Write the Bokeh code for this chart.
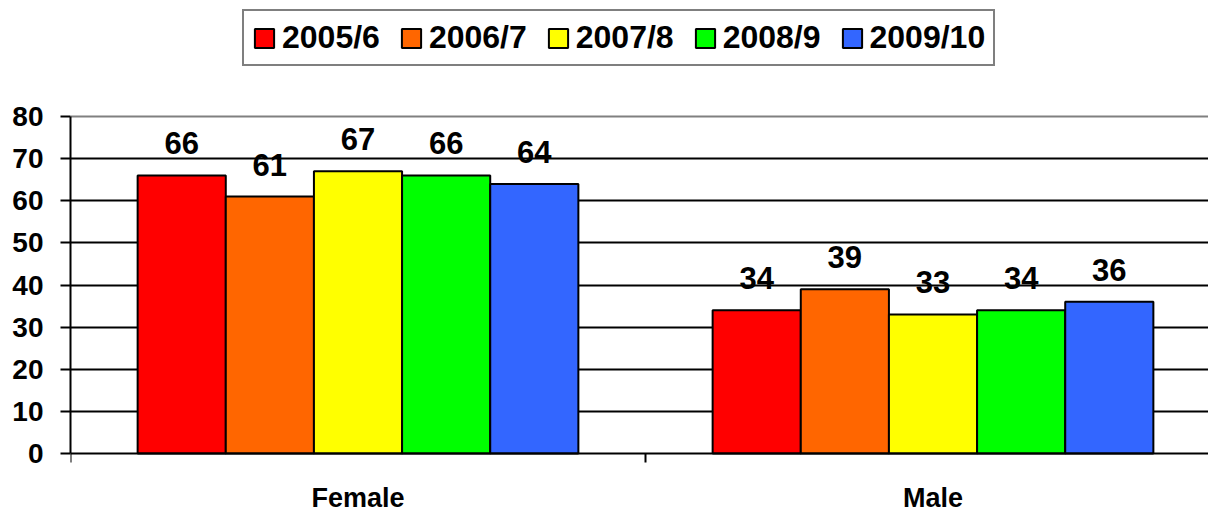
from bokeh.plotting import figure
from bokeh.models import (ColumnDataSource, Range1d, LinearAxis, FixedTicker,
                          Legend, LegendItem, Grid)
from bokeh.core.properties import value
from bokeh.embed import file_html
from bokeh.resources import INLINE

# ---- data ----
categories = ["Female", "Male"]
years = ["2005/6", "2006/7", "2007/8", "2008/9", "2009/10"]
v_2005 = [66, 34]
v_2006 = [61, 39]
v_2007 = [67, 33]
v_2008 = [66, 34]
v_2009 = [64, 36]
series = [v_2005, v_2006, v_2007, v_2008, v_2009]
y_ticks = [0, 10, 20, 30, 40, 50, 60, 70, 80]

# ---- style ----
colors = ["#FF0000", "#FF6600", "#FFFF00", "#00FF00", "#3366FF"]
FONT = "Liberation Sans"
W, H = 1208, 513
left_border = 70
px_per_cat = 575.0
px_per_unit = 4.2125
zero_from_bottom = 60
bar_w = 0.1533

x_end = (W - left_border) / px_per_cat
y_start = -zero_from_bottom / px_per_unit
y_end = y_start + H / px_per_unit

p = figure(width=W, height=H, output_backend="svg", toolbar_location=None,
           x_range=Range1d(0, x_end), y_range=Range1d(y_start, y_end),
           x_axis_location=None, y_axis_location="left")
p.min_border = 0
p.min_border_left = left_border
p.outline_line_color = None
p.background_fill_color = "white"
p.border_fill_color = "white"

# y axis
ya = p.yaxis[0]
ya.ticker = FixedTicker(ticks=y_ticks)
ya.bounds = (y_ticks[0], y_ticks[-1])
ya.axis_line_color = "black"
ya.axis_line_width = 2
ya.major_tick_line_color = "black"
ya.major_tick_line_width = 2
ya.major_tick_out = 10
ya.major_tick_in = 0
ya.minor_tick_line_color = None
ya.major_label_text_font = FONT
ya.major_label_text_font_style = "bold"
ya.major_label_text_font_size = "28px"
ya.major_label_text_color = "black"
ya.major_label_standoff = 17

# x axis at y=0
cat_centers = [i + 0.5 for i in range(len(categories))]
xa = LinearAxis(fixed_location=0,
                ticker=FixedTicker(ticks=cat_centers,
                                   minor_ticks=list(range(len(categories) + 1))),
                major_label_overrides={c: n for c, n in zip(cat_centers, categories)})
xa.axis_line_color = "black"
xa.axis_line_width = 2
xa.major_tick_line_color = None
xa.major_tick_out = 0
xa.major_tick_in = 0
xa.minor_tick_line_color = "black"
xa.minor_tick_line_width = 2
xa.minor_tick_out = 9
xa.minor_tick_in = 0
xa.major_label_text_font = FONT
xa.major_label_text_font_style = "bold"
xa.major_label_text_font_size = "27px"
xa.major_label_text_color = "black"
xa.major_label_standoff = 20
p.add_layout(xa, "below")

# grid
p.xgrid.visible = False
p.ygrid.ticker = FixedTicker(ticks=y_ticks[1:-1])
p.ygrid.grid_line_color = "black"
p.ygrid.grid_line_width = 2
p.add_layout(Grid(dimension=1, ticker=FixedTicker(ticks=[y_ticks[-1]]),
                  grid_line_color="#808080", grid_line_width=2))

items = []
for j, (yr, vals, col) in enumerate(zip(years, series, colors)):
    xs = [i + 0.5 + (j - 2) * bar_w for i in range(len(categories))]
    src = ColumnDataSource(dict(x=xs, top=vals, label=[str(v) for v in vals]))
    r = p.vbar(x="x", top="top", bottom=0, width=bar_w, source=src,
               fill_color=col, line_color="black", line_width=2)
    p.text(x="x", y="top", text="label", source=src, text_align="center",
           text_baseline="alphabetic", y_offset=-32,
           text_font=value(FONT), text_font_style="bold",
           text_font_size="31px", text_color="black")
    items.append(LegendItem(label=yr, renderers=[r]))

legend = Legend(items=items, orientation="horizontal", location=(172, 447))
legend.label_text_font = FONT
legend.label_text_font_style = "bold"
legend.label_text_font_size = "32px"
legend.label_text_color = "black"
legend.glyph_width = 24
legend.glyph_height = 24
legend.label_standoff = 6
legend.spacing = 19
legend.padding = 8
legend.margin = 0
legend.border_line_color = "black"
legend.border_line_width = 2
legend.background_fill_color = "white"
legend.background_fill_alpha = 1
p.add_layout(legend)

open("out.html", "w").write(file_html(p, INLINE))
